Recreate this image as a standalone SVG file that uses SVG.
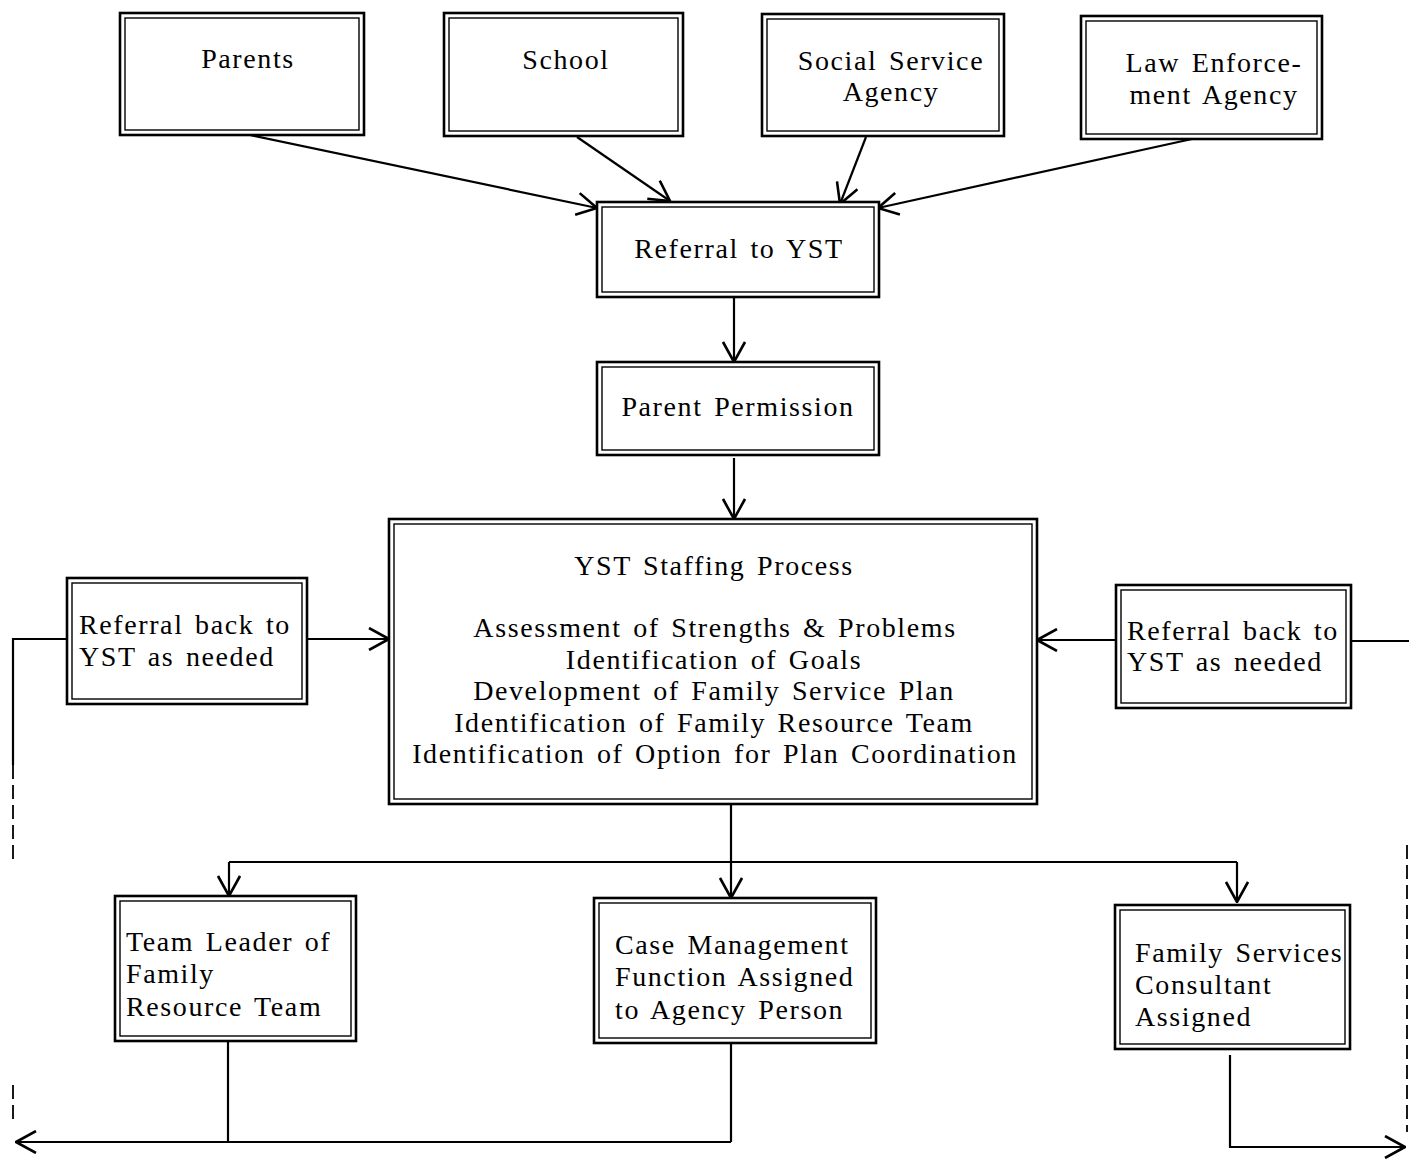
<svg xmlns="http://www.w3.org/2000/svg" width="1409" height="1165" viewBox="0 0 1409 1165">
  <style>
    .outer { fill: #fff; stroke: #000; stroke-width: 2.6; }
    .inner { fill: none; stroke: #000; stroke-width: 1.4; }
    .lbl { font-family: "Liberation Serif", "Times New Roman", serif; font-size: 28px; letter-spacing: 1.6px; word-spacing: 3px; fill: #000; }
    .c { text-anchor: middle; }
    .wire { fill: none; stroke: #000; stroke-width: 2.2; }
    .dash { fill: none; stroke: #000; stroke-width: 1.8; stroke-dasharray: 14 6; }
  </style>
  <defs>
    <marker id="vee" viewBox="0 0 22 24" refX="21" refY="12" markerWidth="22" markerHeight="24" markerUnits="userSpaceOnUse" orient="auto">
      <path d="M1,1 L21,12 L1,23" fill="none" stroke="#000" stroke-width="2.6"/>
    </marker>
  </defs>

  <rect width="1409" height="1165" fill="#fff"/>

  <!-- connectors -->
  <g id="connectors">
    <line class="wire" x1="250" y1="135" x2="597" y2="208" marker-end="url(#vee)"/>
    <line class="wire" x1="577" y1="137" x2="670" y2="201" marker-end="url(#vee)"/>
    <line class="wire" x1="866" y1="137" x2="840" y2="204" marker-end="url(#vee)"/>
    <line class="wire" x1="1192" y1="139" x2="878" y2="208" marker-end="url(#vee)"/>
    <line class="wire" x1="734" y1="297" x2="734" y2="362" marker-end="url(#vee)"/>
    <line class="wire" x1="734" y1="458" x2="734" y2="519" marker-end="url(#vee)"/>
    <!-- side referrals back into staffing -->
    <line class="wire" x1="307" y1="639" x2="389" y2="639" marker-end="url(#vee)"/>
    <line class="wire" x1="1116" y1="640" x2="1037" y2="640" marker-end="url(#vee)"/>
    <polyline class="wire" points="67,639 13,639 13,765"/>
    <line class="dash" x1="13" y1="765" x2="13" y2="860"/>
    <line class="dash" x1="13" y1="1085" x2="13" y2="1125"/>
    <line class="wire" x1="1351" y1="641" x2="1409" y2="641"/>
    <line class="dash" x1="1407" y1="845" x2="1407" y2="1132"/>
    <!-- staffing fan-out -->
    <line class="wire" x1="731" y1="804" x2="731" y2="862"/>
    <line class="wire" x1="229" y1="862" x2="1237" y2="862"/>
    <line class="wire" x1="229" y1="862" x2="229" y2="896" marker-end="url(#vee)"/>
    <line class="wire" x1="731" y1="862" x2="731" y2="898" marker-end="url(#vee)"/>
    <line class="wire" x1="1237" y1="862" x2="1237" y2="902" marker-end="url(#vee)"/>
    <!-- return paths -->
    <line class="wire" x1="228" y1="1041" x2="228" y2="1142"/>
    <line class="wire" x1="731" y1="1043" x2="731" y2="1142"/>
    <line class="wire" x1="731" y1="1142" x2="16" y2="1142" marker-end="url(#vee)"/>
    <polyline class="wire" points="1230,1055 1230,1147 1405,1147" marker-end="url(#vee)"/>
  </g>

  <g id="parents">
    <rect class="outer" x="120" y="13" width="244" height="122"/>
    <rect class="inner" x="125" y="18" width="234" height="112"/>
    <text class="lbl c" x="248" y="68">Parents</text>
  </g>
  <g id="school">
    <rect class="outer" x="444" y="13" width="239" height="123"/>
    <rect class="inner" x="449" y="18" width="229" height="113"/>
    <text class="lbl c" x="566" y="69">School</text>
  </g>
  <g id="social-service">
    <rect class="outer" x="762" y="14" width="242" height="122"/>
    <rect class="inner" x="767" y="19" width="232" height="112"/>
    <text class="lbl c" x="891" y="70">Social Service</text>
    <text class="lbl c" x="891" y="101">Agency</text>
  </g>
  <g id="law-enforcement">
    <rect class="outer" x="1081" y="16" width="241" height="123"/>
    <rect class="inner" x="1086" y="21" width="231" height="113"/>
    <text class="lbl c" x="1214" y="72">Law Enforce-</text>
    <text class="lbl c" x="1214" y="104">ment Agency</text>
  </g>
  <g id="referral">
    <rect class="outer" x="597" y="202" width="282" height="95"/>
    <rect class="inner" x="602" y="207" width="272" height="85"/>
    <text class="lbl c" x="739" y="258">Referral to YST</text>
  </g>
  <g id="permission">
    <rect class="outer" x="597" y="362" width="282" height="93"/>
    <rect class="inner" x="602" y="367" width="272" height="83"/>
    <text class="lbl c" x="738" y="416">Parent Permission</text>
  </g>
  <g id="staffing">
    <rect class="outer" x="389" y="519" width="648" height="285"/>
    <rect class="inner" x="394" y="524" width="638" height="275"/>
    <text class="lbl c" x="714" y="575">YST Staffing Process</text>
    <text class="lbl c" x="715" y="637">Assessment of Strengths &amp; Problems</text>
    <text class="lbl c" x="714" y="668.5">Identification of Goals</text>
    <text class="lbl c" x="714" y="700">Development of Family Service Plan</text>
    <text class="lbl c" x="714" y="731.5">Identification of Family Resource Team</text>
    <text class="lbl c" x="715" y="763">Identification of Option for Plan Coordination</text>
  </g>
  <g id="referral-back-left">
    <rect class="outer" x="67" y="578" width="240" height="126"/>
    <rect class="inner" x="72" y="583" width="230" height="116"/>
    <text class="lbl" x="79" y="634">Referral back to</text>
    <text class="lbl" x="79" y="666">YST as needed</text>
  </g>
  <g id="referral-back-right">
    <rect class="outer" x="1116" y="585" width="235" height="123"/>
    <rect class="inner" x="1121" y="590" width="225" height="113"/>
    <text class="lbl" x="1127" y="640">Referral back to</text>
    <text class="lbl" x="1127" y="671">YST as needed</text>
  </g>
  <g id="team-leader">
    <rect class="outer" x="115" y="896" width="241" height="145"/>
    <rect class="inner" x="120" y="901" width="231" height="135"/>
    <text class="lbl" x="126" y="951">Team Leader of</text>
    <text class="lbl" x="126" y="983">Family</text>
    <text class="lbl" x="126" y="1016">Resource Team</text>
  </g>
  <g id="case-management">
    <rect class="outer" x="594" y="898" width="282" height="145"/>
    <rect class="inner" x="599" y="903" width="272" height="135"/>
    <text class="lbl" x="615" y="954">Case Management</text>
    <text class="lbl" x="615" y="986">Function Assigned</text>
    <text class="lbl" x="615" y="1019">to Agency Person</text>
  </g>
  <g id="family-services">
    <rect class="outer" x="1115" y="905" width="235" height="144"/>
    <rect class="inner" x="1120" y="910" width="225" height="134"/>
    <text class="lbl" x="1135" y="962">Family Services</text>
    <text class="lbl" x="1135" y="994">Consultant</text>
    <text class="lbl" x="1135" y="1026">Assigned</text>
  </g>
</svg>
